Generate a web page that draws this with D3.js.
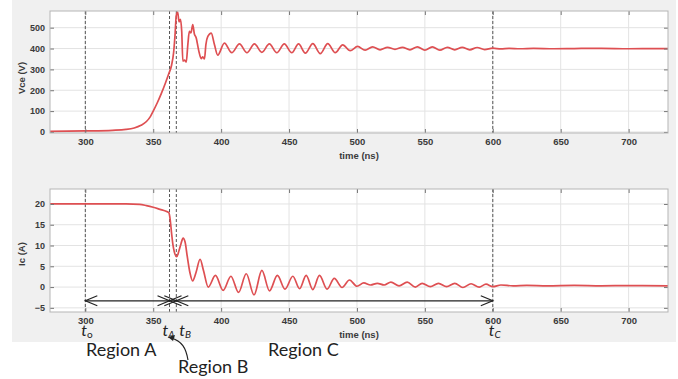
<!DOCTYPE html>
<html>
<head>
<meta charset="utf-8">
<script src="https://cdn.jsdelivr.net/npm/d3@7"></script>
<style>
  body { margin: 0; background: #fff; }
  svg { display: block; }
  .tick text { font-family: "Liberation Sans", Arial, sans-serif; font-weight: bold; fill: #3a3a3a; }
</style>
</head>
<body>
<svg id="chart" width="678" height="379"></svg>
<script>
// Collector-emitter voltage during turn-off (time in ns, voltage in V)
const vceTime = [274, 300, 320, 330, 336, 341, 345, 348, 350, 353, 356, 359, 361.5, 363.5, 365, 366, 367, 368,
  369, 370, 371, 371.8, 373, 374.3, 375.5, 376.6, 377.8, 379.1, 380.3, 381.6, 383.5, 385.3, 386.5, 387.7, 388.8,
  390.2, 392.7, 395.1, 397.5, 402.4, 407.8, 413.5, 419, 424.5, 430, 435.5, 441, 446.5, 452, 457, 462, 467.5, 473,
  478.5, 484, 489.5, 495, 500.5, 506, 511.5, 517, 522.5, 528, 533.5, 539, 544.5, 550, 555.5, 561, 566.5, 572,
  577.5, 583, 588.5, 594, 600, 606, 612, 620, 630, 645, 660, 680, 700, 729];
const vceVolt = [3, 5, 8, 12, 19, 32, 50, 75, 100, 140, 185, 235, 280, 320, 380, 460, 560, 575,
  528, 540, 480, 340, 345, 335, 420, 482, 475, 515, 470, 452, 390, 352, 360, 350, 420,
  458, 474, 418, 368, 426, 380, 422, 380, 422, 382, 422, 380, 422, 380, 422, 378, 424, 376,
  424, 380, 418, 390, 410, 392, 408, 394, 406, 396, 406, 394, 408, 392, 408, 392, 406, 394,
  406, 394, 405, 395, 402, 398, 401, 399, 401, 399, 400, 401, 399, 400];

// Collector current during turn-off (time in ns, current in A)
const icTime = [274, 300, 330, 340, 345, 350, 355, 359, 361.5, 362.5, 363.5, 364.5, 365.5, 367.3, 369, 370.5, 372,
  373.5, 375, 377, 379, 381.5, 384.5, 387, 390.5, 395.8, 401.5, 407.2, 412.8, 418.5, 424.2, 430, 435.6, 441.4,
  447, 452.8, 457.8, 462.6, 467.5, 472.4, 478, 483.3, 489, 494.5, 500, 505, 510, 515, 520, 525, 531, 537, 543,
  548, 554, 560, 566, 572, 578, 584, 590, 595, 600, 606, 615, 625, 640, 660, 680, 700, 729];
const icAmp = [20, 20, 20, 19.9, 19.6, 19.2, 18.7, 18.3, 17.9, 16.2, 13, 10.2, 8.5, 7.3, 8.8, 10.5, 11.8,
  10.8, 7.5, 3.5, 1.5, 3.5, 6.7, 4, 0, 2.8, -0.8, 2.6, -1.3, 3.2, -1.9, 4.0, -0.9, 2.8,
  -0.5, 2.6, -0.4, 2.8, -0.6, 2.8, -0.5, 2.1, -0.1, 1.7, 0.2, 1.0, 0.5, 0.9, 0.5, 1.2, 0.3, 1.2, 0.0,
  0.9, 0.1, 0.9, 0.1, 0.9, -0.1, 0.8, 0.0, 0.7, 0.1, 0.5, 0.3, 0.4, 0.3, 0.4, 0.3, 0.35, 0.3];

// Axis ticks
const timeTicks = [300, 350, 400, 450, 500, 550, 600, 650, 700];
const vceTicks = [0, 100, 200, 300, 400, 500];
const icTicks = [-5, 0, 5, 10, 15, 20];

// Region boundaries t_o, t_A, t_B, t_C and their labels
const boundaryTimes = [300, 362, 367, 600];
const boundaryNames = ["o", "A", "B", "C"];
const regionSpans = [[300, 362], [362, 367], [367, 600]];
const regionNames = ["Region A", "Region B", "Region C"];
const arrowLevel = -3.3; // A, on the current axis

const svg = d3.select("#chart");
const W = 678, H = 379;
const lineColor = "#de4f52";

// figure background
svg.append("rect").attr("width", W).attr("height", H).attr("fill", "#fff");
svg.append("rect").attr("x", 12).attr("y", 0).attr("width", 664).attr("height", 342).attr("fill", "#f0f0f0");

const left = 50, right = 668;
const x = d3.scaleLinear().domain([274, 729]).range([left, right]);

function panel(top, bottom, yDomain, yTicks, times, values, yLabel, yLabelY) {
  const y = d3.scaleLinear().domain(yDomain).range([bottom, top]);
  const g = svg.append("g");
  g.append("rect").attr("x", left).attr("y", top).attr("width", right - left).attr("height", bottom - top)
    .attr("fill", "#fff");
  // grid
  g.selectAll(".gx").data(timeTicks).join("line")
    .attr("x1", d => x(d)).attr("x2", d => x(d)).attr("y1", top).attr("y2", bottom)
    .attr("stroke", "#e3e3e3").attr("stroke-width", 1);
  g.selectAll(".gy").data(yTicks).join("line")
    .attr("x1", left).attr("x2", right).attr("y1", d => y(d)).attr("y2", d => y(d))
    .attr("stroke", "#e3e3e3").attr("stroke-width", 1);
  // region boundaries
  g.selectAll(".bd").data(boundaryTimes).join("line")
    .attr("x1", d => x(d)).attr("x2", d => x(d)).attr("y1", top).attr("y2", bottom)
    .attr("stroke", "#555").attr("stroke-width", 1).attr("stroke-dasharray", "3,2");
  // waveform
  const line = d3.line().x((d, i) => x(times[i])).y(d => y(d)).curve(d3.curveMonotoneX);
  g.append("path").datum(values).attr("d", line)
    .attr("fill", "none").attr("stroke", lineColor).attr("stroke-width", 1.7);
  // axes (ticks inward on all sides)
  const ax = g.append("g").attr("transform", `translate(0,${bottom})`)
    .call(d3.axisBottom(x).tickValues(timeTicks).tickSize(-4).tickPadding(5));
  const axTop = g.append("g").attr("transform", `translate(0,${top})`)
    .call(d3.axisTop(x).tickValues(timeTicks).tickSize(-4).tickFormat(""));
  const ay = g.append("g").attr("transform", `translate(${left},0)`)
    .call(d3.axisLeft(y).tickValues(yTicks).tickSize(-4).tickPadding(5));
  const ayR = g.append("g").attr("transform", `translate(${right},0)`)
    .call(d3.axisRight(y).tickValues(yTicks).tickSize(-4).tickFormat(""));
  [ax, axTop, ay, ayR].forEach(a => {
    a.select(".domain").remove();
    a.selectAll(".tick line").attr("stroke", "#777");
  });
  ax.selectAll(".tick text").attr("font-size", 9.5);
  ay.selectAll(".tick text").attr("font-size", 9);
  g.append("rect").attr("x", left).attr("y", top).attr("width", right - left).attr("height", bottom - top)
    .attr("fill", "none").attr("stroke", "#b5b5b5").attr("stroke-width", 1);
  g.append("text").attr("x", (left + right) / 2).attr("y", bottom + 26).attr("text-anchor", "middle")
    .attr("font-family", "Liberation Sans, Arial, sans-serif").attr("font-weight", "bold")
    .attr("font-size", 9.5).attr("fill", "#3a3a3a").text("time (ns)");
  g.append("text").attr("transform", `translate(25,${yLabelY}) rotate(-90)`).attr("text-anchor", "middle")
    .attr("font-family", "Liberation Sans, Arial, sans-serif").attr("font-weight", "bold")
    .attr("font-size", 9.5).attr("fill", "#3a3a3a").text(yLabel);
  return y;
}

panel(11, 133, [-5, 580], vceTicks, vceTime, vceVolt, "Vce (V)", 78);
const yIc = panel(189, 312, [-6, 23.6], icTicks, icTime, icAmp, "Ic (A)", 254);

// region arrows
const ay0 = yIc(arrowLevel);
const headL = 12, headH = 5;
const ann = svg.append("g").attr("stroke", "#222").attr("stroke-width", 1.2).attr("fill", "none");
regionSpans.forEach(([a, b]) => {
  const xa = x(a), xb = x(b);
  ann.append("line").attr("x1", xa).attr("x2", xb).attr("y1", ay0).attr("y2", ay0);
  ann.append("polyline").attr("points", `${xa + headL},${ay0 - headH} ${xa},${ay0} ${xa + headL},${ay0 + headH}`);
  ann.append("polyline").attr("points", `${xb - headL},${ay0 - headH} ${xb},${ay0} ${xb - headL},${ay0 + headH}`);
});

// boundary labels t_o, t_A, t_B, t_C
const labFont = "Lato, 'Open Sans', sans-serif";
boundaryNames.forEach((n, i) => {
  const t = svg.append("text").attr("x", x(boundaryTimes[i]) + (i === 1 ? -7 : (i === 2 ? 3 : -4)))
    .attr("y", 336).attr("font-family", labFont).attr("font-size", 16).attr("fill", "#222");
  t.append("tspan").attr("font-style", "italic").text("t");
  t.append("tspan").attr("font-size", 10).attr("dy", 2).attr("font-style", n === "o" ? "normal" : "italic").text(n);
});

// region names
const regionPos = [[86, 356], [178, 373], [268, 356]];
regionNames.forEach((n, i) => {
  svg.append("text").attr("x", regionPos[i][0]).attr("y", regionPos[i][1])
    .attr("font-family", labFont).attr("font-size", 18).attr("fill", "#222").text(n);
});

// curved pointer from Region B to t_A
svg.append("path").attr("d", "M188,360 C186,348 182,341 171,338")
  .attr("fill", "none").attr("stroke", "#222").attr("stroke-width", 1.2);
svg.append("path").attr("d", "M168,337 L175,335 L173,341 Z").attr("fill", "#222");
</script>
</body>
</html>
